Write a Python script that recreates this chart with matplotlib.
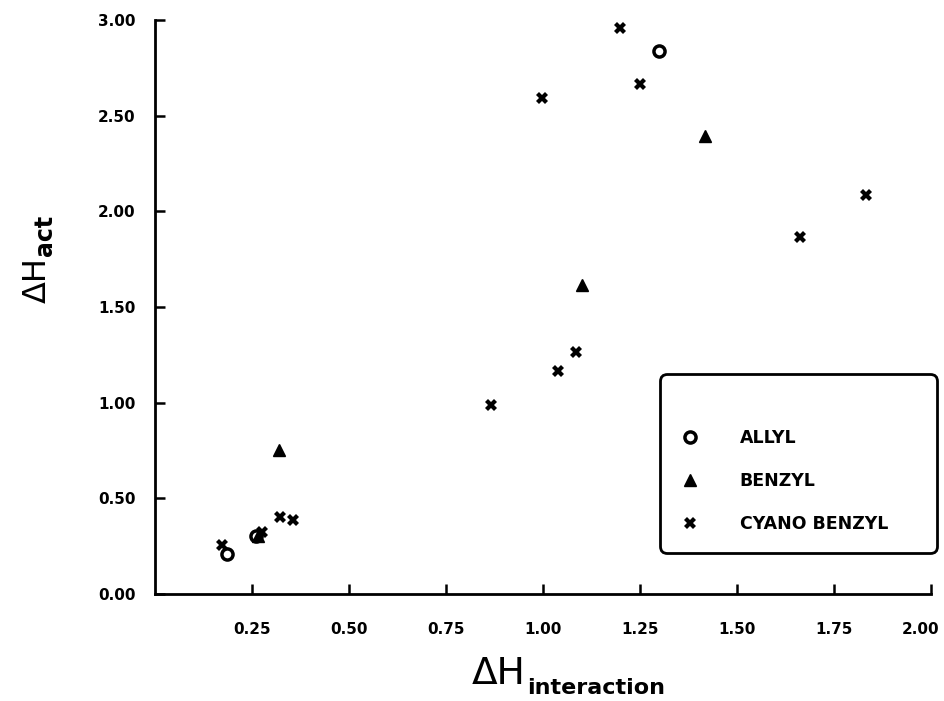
import matplotlib
matplotlib.use("Agg")
import matplotlib.pyplot as plt
import matplotlib.transforms as mtransforms

# data
allyl_x = [0.185, 0.262, 1.30]
allyl_y = [0.21, 0.305, 2.84]
benzyl_x = [0.265, 0.32, 1.10, 1.417]
benzyl_y = [0.305, 0.753, 1.615, 2.394]
cyano_x = [0.172, 0.275, 0.322, 0.355, 0.866, 1.04, 1.085, 0.997, 1.198, 1.25, 1.662, 1.833]
cyano_y = [0.256, 0.325, 0.40, 0.387, 0.988, 1.166, 1.265, 2.59, 2.96, 2.666, 1.866, 2.086]

xticks = [0.25, 0.50, 0.75, 1.00, 1.25, 1.50, 1.75, 2.00]
yticks = [0.00, 0.50, 1.00, 1.50, 2.00, 2.50, 3.00]

plt.rcParams['font.family'] = ['DejaVu Sans']

fig = plt.figure(figsize=(9.44, 7.01), dpi=100)
ax = fig.add_axes([0.164, 0.1526, 0.822, 0.819])

ax.plot(allyl_x, allyl_y, 'o', ms=8, mfc='white', mec='black', mew=2.5, ls='none', label='ALLYL')
ax.plot(benzyl_x, benzyl_y, '^', ms=8, color='black', ls='none', label='BENZYL')
ax.plot(cyano_x, cyano_y, 'X', ms=8, color='black', mew=0, ls='none', label='CYANO BENZYL')

ax.set_xlim(0, 2.0)
ax.set_ylim(0, 3.0)
ax.set_xticks(xticks)
ax.set_xticklabels(['%.2f' % v for v in xticks])
ax.set_yticks(yticks)
ax.set_yticklabels(['%.2f' % v for v in yticks])

for s in ['top', 'right']:
    ax.spines[s].set_visible(False)
for s in ['left', 'bottom']:
    ax.spines[s].set_linewidth(2)

ax.tick_params(axis='both', direction='in', length=7, width=1.8, labelsize=11)
ax.tick_params(axis='x', pad=20)
ax.tick_params(axis='y', pad=14)
for lab in ax.get_xticklabels() + ax.get_yticklabels():
    lab.set_fontweight('bold')
# last x label sits against the right edge, nudge it in a little
last = ax.get_xticklabels()[-1]
last.set_transform(last.get_transform() + mtransforms.ScaledTranslation(-7 / 72, 0, fig.dpi_scale_trans))

# axis labels: big thin "ΔH" with a bold subscript
xl = fig.text(0.528, 0.038, 'ΔH', fontsize=27, ha='center', va='center')
ax.annotate('interaction', xy=(1, 0), xycoords=xl, xytext=(1, -1), textcoords='offset points',
            fontsize=16, fontweight='bold', ha='left', va='baseline')
yl = fig.text(0.039, 0.600, 'ΔH', fontsize=23, ha='center', va='center', rotation=90)
ax.annotate('act', xy=(1, 1), xycoords=yl, xytext=(0, 1), textcoords='offset points',
            fontsize=17, fontweight='bold', ha='left', va='baseline', rotation=90,
            rotation_mode='anchor')

leg = ax.legend(loc='lower left', bbox_to_anchor=(0.651, 0.071, 0.357, 0.3), mode='expand',
                frameon=True, fancybox=True, edgecolor='black', framealpha=1,
                borderpad=1.15, labelspacing=1.45, handletextpad=2.25, handlelength=1.2,
                borderaxespad=0, title=' ', title_fontsize=7,
                prop={'weight': 'bold', 'size': 12.5})
leg.get_frame().set_linewidth(2)
leg.get_frame().set_boxstyle('round,pad=0,rounding_size=0.4')

fig.savefig('out.png', dpi=100)
